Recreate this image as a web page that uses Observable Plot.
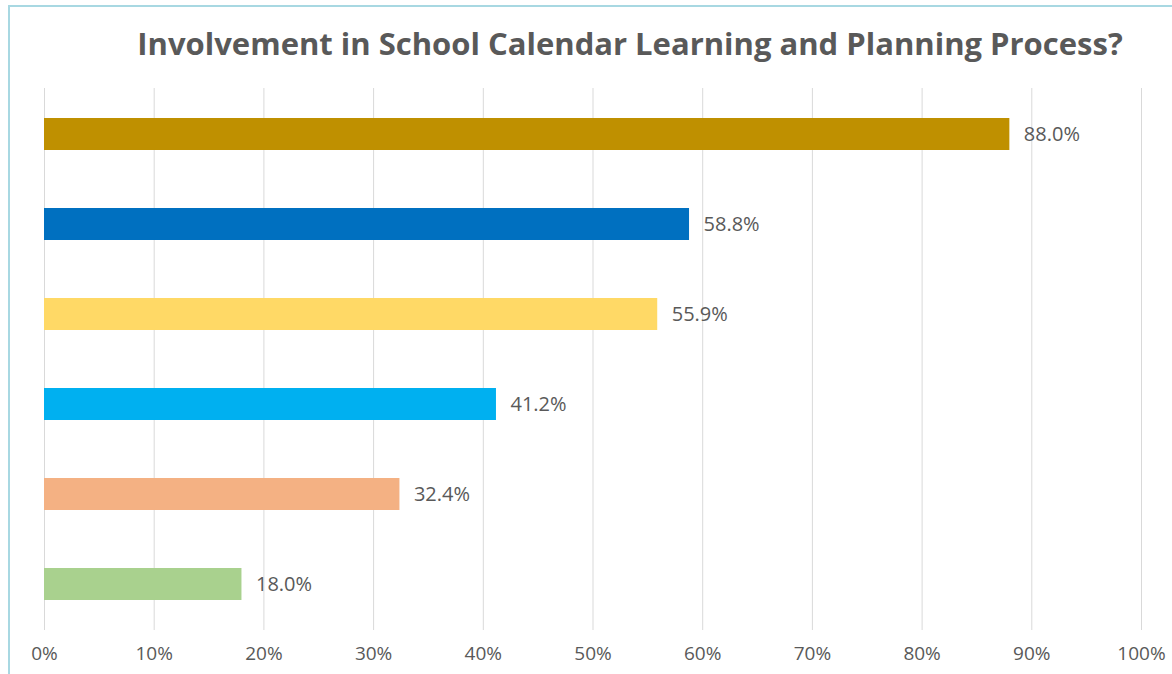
<!DOCTYPE html>
<html>
<head>
<meta charset="utf-8">
<script src="https://cdn.jsdelivr.net/npm/d3@7"></script>
<script src="https://cdn.jsdelivr.net/npm/@observablehq/plot@0.6"></script>
<style>
  html, body { margin: 0; padding: 0; background: #fff; overflow: hidden; }
  #frame { position: absolute; left: 8px; top: 5px; width: 1200px; height: 700px;
           border-top: 2px solid #a8d8e2; border-left: 2px solid #a8d8e2; box-sizing: border-box; }
  #title { position: absolute; top: 22px; left: 0; width: 1172px; text-align: center;
           padding-left: 88px; box-sizing: border-box; line-height: 42px;
           font-family: "Open Sans", sans-serif; font-weight: 700; font-size: 31px; color: #595959; }
  #chart { position: absolute; left: 0; top: 80px; }
</style>
</head>
<body>
<div id="frame"></div>
<div id="title">Involvement in School Calendar Learning and Planning Process?</div>
<div id="chart"></div>
<script>
const categories = ["Category 1", "Category 2", "Category 3", "Category 4", "Category 5", "Category 6"];
const values = [0.880, 0.588, 0.559, 0.412, 0.324, 0.180];
const colors = ["#BF9000", "#0070C0", "#FFD966", "#00B0F0", "#F4B183", "#A9D18E"];
const xTicks = [0, 0.1, 0.2, 0.3, 0.4, 0.5, 0.6, 0.7, 0.8, 0.9, 1.0];

const data = categories.map((c, i) => ({category: c, value: values[i], color: colors[i]}));

const chart = Plot.plot({
  width: 1172,
  height: 594,
  marginTop: 8,
  marginBottom: 44,
  marginLeft: 44,
  marginRight: 31,
  style: {fontFamily: "'Open Sans', sans-serif", fontSize: "19px", color: "#595959", background: "transparent"},
  x: {domain: [0, 1], ticks: xTicks, tickFormat: d3.format(".0%"), tickSize: 0, tickPadding: 16, label: null},
  y: {domain: categories, paddingInner: 0.646, paddingOuter: 0.33, axis: null},
  marks: [
    Plot.gridX(xTicks, {stroke: "#d9d9d9", strokeOpacity: 1, strokeWidth: 1}),
    Plot.barX(data, {x: "value", y: "category", fill: "color"}),
    Plot.text(data, {x: "value", y: "category", text: d => d3.format(".1%")(d.value),
      textAnchor: "start", dx: 14, fill: "#595959", fontSize: 20}),
    Plot.axisX({ticks: xTicks, tickFormat: d3.format(".0%"), tickSize: 0, tickPadding: 16, fill: "#595959", fontSize: 19})
  ]
});
document.getElementById("chart").appendChild(chart);
</script>
</body>
</html>
